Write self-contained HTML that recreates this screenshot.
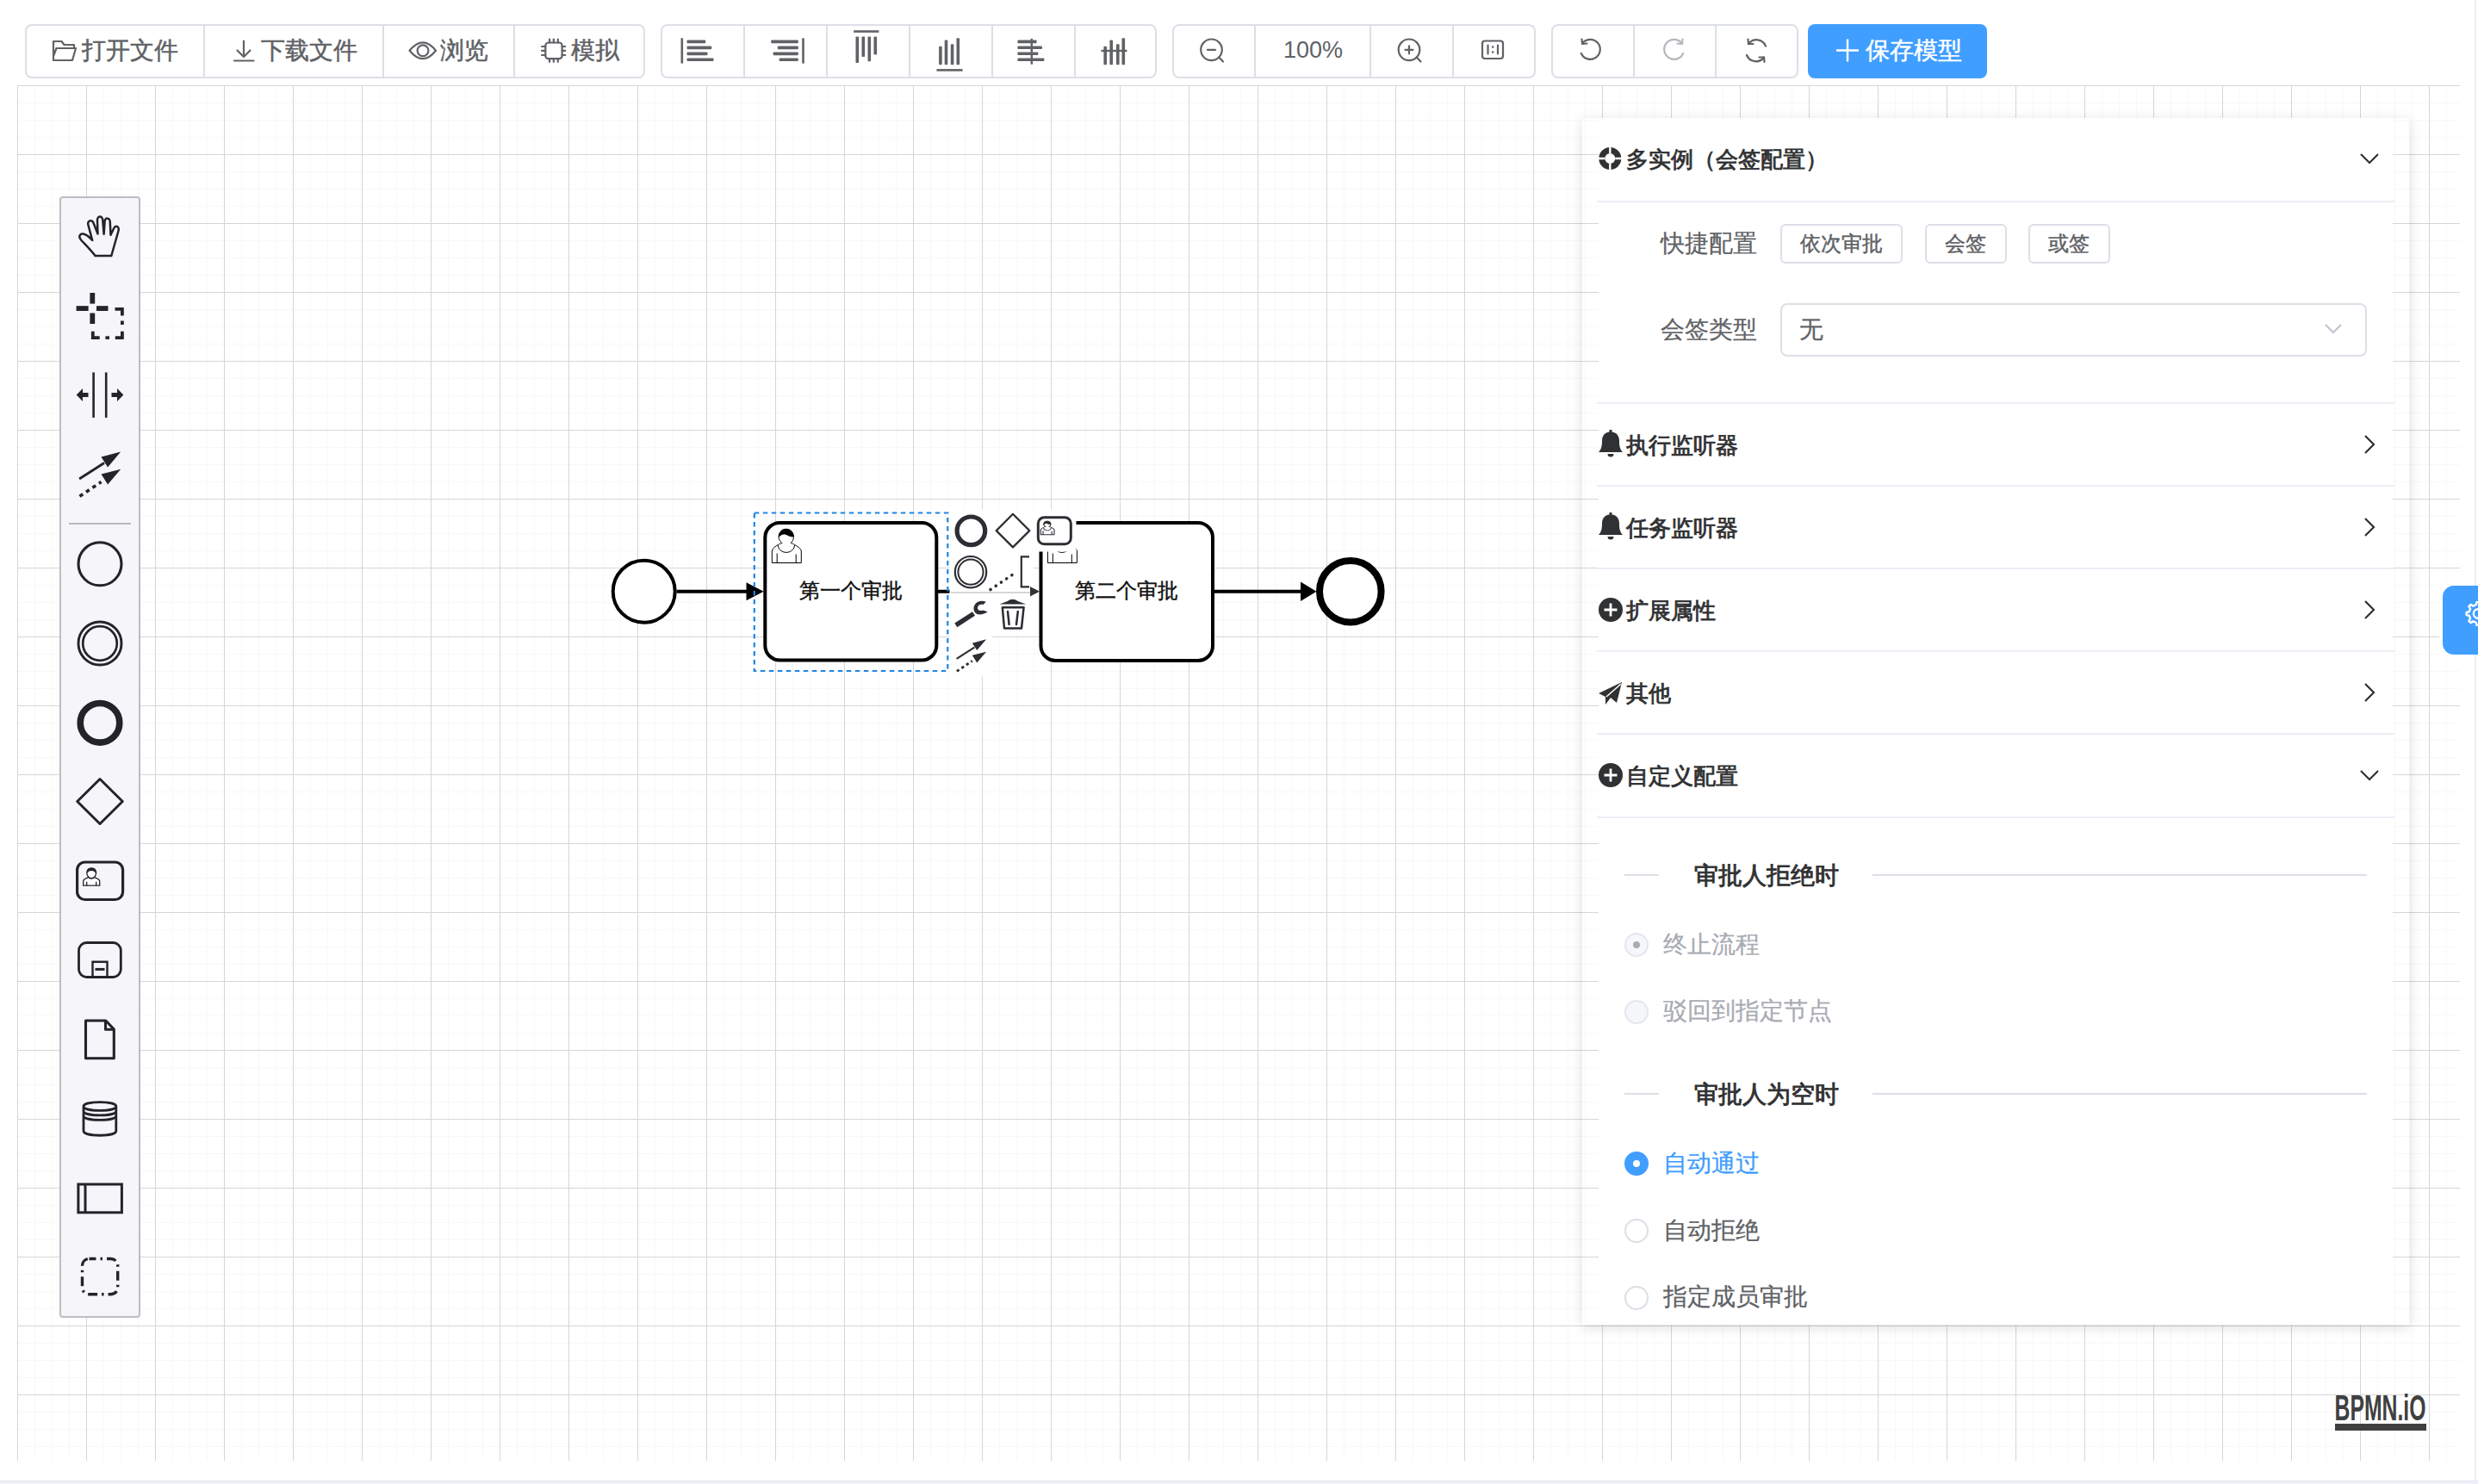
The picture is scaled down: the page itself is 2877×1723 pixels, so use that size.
<!DOCTYPE html>
<html><head><meta charset="utf-8">
<style>
html,body{margin:0;padding:0;}
body{width:2877px;height:1723px;position:relative;overflow:hidden;background:#fff;font-family:"Liberation Sans",sans-serif;color:#606266;}
.abs{position:absolute;}
#canvas{position:absolute;left:20px;top:99px;width:2836px;height:1597px;
 background-image:
  linear-gradient(to right,#d6d6d6 0,#d6d6d6 1px,transparent 1px),
  linear-gradient(to bottom,#d6d6d6 0,#d6d6d6 1px,transparent 1px),
  linear-gradient(to right,#f8f8f8 0,#f8f8f8 1px,transparent 1px),
  linear-gradient(to bottom,#f8f8f8 0,#f8f8f8 1px,transparent 1px);
 background-size:80px 80px,80px 80px,20px 20px,20px 20px;}
.grp{position:absolute;top:27.5px;height:63px;box-sizing:border-box;border:2px solid #dcdfe6;border-radius:8px;background:#fff;}
.btn{position:absolute;top:0;height:59px;box-sizing:border-box;border-left:2px solid #dcdfe6;}
.btn.f{border-left:none;}
.t28{position:absolute;font-size:28px;line-height:28px;color:#606266;white-space:nowrap;-webkit-text-stroke:0.5px currentColor;}
svg{position:absolute;overflow:visible;}
#palette{position:absolute;left:69px;top:228px;width:94px;height:1302px;box-sizing:border-box;border:2px solid #bdbdc3;border-radius:4px;background:#f5f5fa;}
#panel{position:absolute;left:1837px;top:137px;width:960px;height:1401px;box-shadow:0 3px 14px rgba(0,0,0,0.13);}
#panelw{position:absolute;left:1856px;top:137px;width:922px;height:1401px;background:#fff;}
.hd{position:absolute;font-size:26px;line-height:26px;color:#303133;-webkit-text-stroke:0.85px #303133;white-space:nowrap;}
.sep{position:absolute;height:2px;background:#ebeef5;}
.lbl{position:absolute;font-size:28px;line-height:28px;color:#606266;white-space:nowrap;-webkit-text-stroke:0.25px currentColor;}
.sbtn{position:absolute;box-sizing:border-box;border:2px solid #dcdfe6;border-radius:6px;height:46px;top:260px;font-size:24px;line-height:42px;text-align:center;color:#606266;-webkit-text-stroke:0.45px #606266;}
.radio{position:absolute;box-sizing:border-box;width:28px;height:28px;border-radius:50%;border:2px solid #dcdfe6;background:#fff;}
</style></head><body>
<div id="canvas"></div>
<div class="abs" style="left:0;top:1718.5px;width:2877px;height:1.5px;background:#e3e4e8"></div><div class="abs" style="left:0;top:1720px;width:2877px;height:3px;background:#eef1f9"></div>
<div class="abs" style="left:2873px;top:0;width:2px;height:1719px;background:#eceef4"></div>

<div class="grp" style="left:28.5px;width:720.5px;">
<div class="btn f" style="left:0px;width:205.5px"></div>
<div class="btn" style="left:205.5px;width:208px"></div>
<div class="btn" style="left:413.5px;width:151.5px"></div>
<div class="btn" style="left:565.0px;width:151.5px"></div>
</div>
<div class="grp" style="left:767px;width:576.0px;">
<div class="btn f" style="left:0px;width:93.5px"></div>
<div class="btn" style="left:93.5px;width:96px"></div>
<div class="btn" style="left:189.5px;width:96px"></div>
<div class="btn" style="left:285.5px;width:96px"></div>
<div class="btn" style="left:381.5px;width:96px"></div>
<div class="btn" style="left:477.5px;width:94.5px"></div>
</div>
<div class="grp" style="left:1360.7px;width:422.3px;">
<div class="btn f" style="left:0px;width:93px"></div>
<div class="btn" style="left:93px;width:134.6px"></div>
<div class="btn" style="left:227.6px;width:96px"></div>
<div class="btn" style="left:323.6px;width:94.7px"></div>
</div>
<div class="grp" style="left:1801px;width:287.0px;">
<div class="btn f" style="left:0px;width:92.8px"></div>
<div class="btn" style="left:92.8px;width:95.5px"></div>
<div class="btn" style="left:188.3px;width:94.7px"></div>
</div>
<div class="t28" style="left:95px;top:44.5px">打开文件</div>
<div class="t28" style="left:303px;top:44.5px">下载文件</div>
<div class="t28" style="left:511px;top:44.5px">浏览</div>
<div class="t28" style="left:662.5px;top:44.5px">模拟</div>
<div class="t28" style="left:1490px;top:45px;font-size:27px;line-height:27px;-webkit-text-stroke:0">100%</div>
<svg style="left:0;top:0" width="2877" height="100" viewBox="0 0 2877 100">
<g fill="none" stroke="#606266" stroke-width="2.2" stroke-linejoin="round" stroke-linecap="round">
<path d="M62,48 H71.5 L74.5,52 H86 V55.5 M62,48 V70 H84 L88,56 H65.5 L62.5,64"/>
<path d="M283,47.5 V66 M275.5,58.5 L283,66 L290.5,58.5 M272,70.5 H294.5"/>
<path d="M475.5,58.7 Q491,40 506,58.7 Q491,77.5 475.5,58.7 Z"/><circle cx="491" cy="58.7" r="6.4"/>
<rect x="633.3" y="49.5" width="19.3" height="18.7" rx="3.5"/>
<path d="M638,45.5 V49.5 M642.8,45.5 V49.5 M647.8,45.5 V49.5 M638,68.2 V71.8 M642.8,68.2 V71.8 M647.8,68.2 V71.8 M629,54 H633.3 M629,58.8 H633.3 M629,64 H633.3 M652.6,54 H656.2 M652.6,58.8 H656.2 M652.6,64 H656.2"/>
<circle cx="1406.5" cy="57.8" r="12.3"/><path d="M1415.2,66.5 L1420,71.5 M1402,57.8 H1411"/>
<circle cx="1636" cy="57.8" r="12.3"/><path d="M1644.7,66.5 L1649.5,71.5 M1631.5,57.8 H1640.5 M1636,53.3 V62.3"/>
<rect x="1721" y="47.5" width="24" height="20.5" rx="3"/>
<path d="M1727.5,52.5 V62.5 M1739,52.5 V62.5"/>
</g>
<g fill="#606266"><circle cx="1733.2" cy="54.5" r="1.3"/><circle cx="1733.2" cy="60.5" r="1.3"/></g>
<g fill="none" stroke-width="2.2" stroke-linecap="round" stroke-linejoin="round">
<path stroke="#606266" d="M1837,50.5 A11.5,11.5 0 1 1 1835.8,62" /><path stroke="#606266" d="M1836.5,45.5 L1837,51 L1842.5,50.5"/>
<path stroke="#b4b6bb" d="M1953,50.5 A11.5,11.5 0 1 0 1954.2,62" /><path stroke="#b4b6bb" d="M1953.5,45.5 L1953,51 L1947.5,50.5"/>
<path stroke="#606266" d="M2030,51 A11.5,11.5 0 0 1 2050,53.5 M2048,66.5 A11.5,11.5 0 0 1 2028,64" /><path stroke="#606266" d="M2029.5,45.5 L2030,51 L2035.5,51 M2048.5,72 L2048,66.5 L2042.5,66.5"/>
</g>
<g fill="#606266">
<rect x="790.5" y="44.3" width="2.6" height="29.3"/>
<rect x="797.5" y="46.6" width="21.700000000000045" height="3.6" rx="1"/>
<rect x="797.5" y="53.6" width="28.700000000000045" height="3.6" rx="1"/>
<rect x="797.5" y="60.6" width="24.0" height="3.6" rx="1"/>
<rect x="797.5" y="67.4" width="31.0" height="3.6" rx="1"/>
<rect x="931.2" y="44.3" width="2.6" height="29.3"/>
<rect x="895.2" y="46.6" width="31.59999999999991" height="3.6" rx="1"/>
<rect x="902.8" y="53.6" width="24.0" height="3.6" rx="1"/>
<rect x="897.6" y="60.6" width="29.199999999999932" height="3.6" rx="1"/>
<rect x="904.6" y="67.4" width="22.199999999999932" height="3.6" rx="1"/>
<rect x="991.2" y="35.2" width="29.2" height="2.6"/>
<rect x="993.5" y="42.6" width="3.6" height="30.4" rx="1"/>
<rect x="1000.5" y="42.6" width="3.6" height="23.4" rx="1"/>
<rect x="1007.5" y="42.6" width="3.6" height="28.6" rx="1"/>
<rect x="1014.5" y="42.6" width="3.6" height="21.0" rx="1"/>
<rect x="1087.5" y="80.1" width="30.1" height="2.6"/>
<rect x="1090.1000000000001" y="53.7" width="3.6" height="21.599999999999994" rx="1"/>
<rect x="1096.7" y="46.6" width="3.6" height="28.699999999999996" rx="1"/>
<rect x="1103.8" y="51.3" width="3.6" height="24.0" rx="1"/>
<rect x="1110.5" y="44.3" width="3.6" height="31.0" rx="1"/>
<rect x="1196.6" y="44.9" width="2.4" height="29.8"/>
<rect x="1181.4" y="46.6" width="22.199999999999818" height="3.6" rx="1"/>
<rect x="1181.4" y="53.400000000000006" width="28.59999999999991" height="3.6" rx="1"/>
<rect x="1181.4" y="60.400000000000006" width="24.0" height="3.6" rx="1"/>
<rect x="1181.4" y="67.4" width="31.0" height="3.6" rx="1"/>
<rect x="1278.5" y="57.8" width="29.9" height="2.4"/>
<rect x="1281.4" y="53.7" width="3.6" height="21.599999999999994" rx="1"/>
<rect x="1288.4" y="46.6" width="3.6" height="28.699999999999996" rx="1"/>
<rect x="1296.0" y="51.3" width="3.6" height="24.0" rx="1"/>
<rect x="1302.5" y="44.3" width="3.6" height="31.0" rx="1"/>
</g>
</svg>
<div class="abs" style="left:2098.5px;top:27.5px;width:208.5px;height:63px;background:#409eff;border-radius:8px;"></div>
<svg style="left:0;top:0" width="10" height="10"><path d="M2132,58.5 H2158 M2145,45.5 V71.5" stroke="#fff" stroke-width="2.4" fill="none"/></svg>
<div class="t28" style="left:2166px;top:44.5px;color:#fff">保存模型</div>
<div id="palette"></div>
<svg style="left:0;top:0" width="10" height="10">
<path fill="none" stroke="#22242a" stroke-width="2.5" stroke-linejoin="round" stroke-linecap="round" d="M110.5,297 H129.3 L137.5,268 C138.8,263 134.5,261 132.5,264.5 L128.5,272.8 L127.8,258 C127.6,252.5 121.6,252 121.6,257.5 L120.6,271.8 L119.3,256 C118.8,250 112.8,250 113,256 L113.5,271.5 L108.8,259.5 C107,254.5 100.8,255.5 102.5,261.5 L107.2,279 C104,275.5 100,272.5 97.5,271.8 C93,270.5 90.5,274.5 94,278.5 C99.5,284.5 106,291 110.5,297 Z"/>
<g fill="#22242a"><rect x="104.4" y="340" width="5.8" height="12.6"/><rect x="104.4" y="363.5" width="5.8" height="12.5"/><rect x="88.6" y="355.2" width="14" height="5.8"/><rect x="112" y="355.2" width="13.5" height="5.8"/><rect x="140" y="372.5" width="3.8" height="4.5"/><rect x="122.4" y="390.3" width="4.6" height="3.6"/></g>
<path fill="none" stroke="#22242a" stroke-width="3.8" d="M133.5,358.8 H141.9 V366.5 M141.9,384.8 V392.1 H133.8 M115.7,392.1 H107.8 V384.8"/>
<g fill="#22242a"><rect x="107.3" y="432.4" width="2.6" height="52.5"/><rect x="121.9" y="432.4" width="2.6" height="52.5"/>
<path d="M88.7,458.6 L96,451 V456 H102.5 V461 H96 V466 Z"/><path d="M143.4,458.6 L136,451 V456 H129.5 V461 H136 V466 Z"/></g>
<path stroke="#22242a" stroke-width="2.8" fill="none" d="M92.1,556 L121,537.5"/><path fill="#22242a" d="M140.2,524.4 L117.5,530.6 L125.1,542.4 Z"/>
<path stroke="#22242a" stroke-width="3.6" fill="none" stroke-dasharray="4.5,4.5" d="M92.5,576.3 L117.5,559.5"/><path fill="#22242a" d="M140.2,544.7 L117.5,550.4 L125.1,562.6 Z"/>
</svg>
<div class="abs" style="left:80px;top:607px;width:72px;height:2px;background:#b9b9bd"></div>
<svg style="left:0;top:0" width="10" height="10"><g fill="none" stroke="#22242a">
<circle cx="116" cy="654.8" r="25" stroke-width="3.1"/>
<circle cx="116" cy="747" r="25" stroke-width="2.9"/><circle cx="116" cy="747" r="19.8" stroke-width="2.7"/>
<circle cx="116" cy="839.3" r="22.8" stroke-width="7.6"/>
<path d="M116,904.5 L142.3,930.5 L116,956.5 L89.7,930.5 Z" stroke-width="3" stroke-linejoin="round"/>
<rect x="89.6" y="1001" width="53" height="43.5" rx="9" stroke-width="3.2"/>
<rect x="91.5" y="1094.5" width="48.8" height="40" rx="9" stroke-width="2.8"/>
<path d="M107.5,1135 V1116.8 H124.5 V1135" stroke-width="2.4"/><path d="M110.5,1125.4 H121.5" stroke-width="3"/>
<path d="M99.5,1185 H122.8 L132.3,1195 V1228.8 H99.5 Z M122.5,1185.5 V1195.3 H132" stroke-width="3.1" stroke-linejoin="round"/>
<path d="M97,1284.5 C97,1278 134.8,1278 134.8,1284.5 V1313 C134.8,1320 97,1320 97,1313 Z M97,1284.5 C97,1291 134.8,1291 134.8,1284.5 M97,1290 C97,1296.5 134.8,1296.5 134.8,1290 M97,1295.5 C97,1302 134.8,1302 134.8,1295.5" stroke-width="2.8"/>
<rect x="90.9" y="1375" width="50.5" height="32.8" stroke-width="3"/><path d="M99,1375 V1408" stroke-width="3"/>
<rect x="95.5" y="1461.5" width="41.2" height="41.2" rx="8" stroke-width="3.4" stroke-dasharray="11,5,2.5,5" stroke-dashoffset="3"/>
</g></svg>
<svg style="left:0;top:0" width="10" height="10"><g transform="translate(96.2,1007.7) scale(1.0)" fill="none" stroke="#22242a" stroke-width="1.3"><path d="M5.5,9 C3.5,5 5,0.5 10,0.5 C15,0.5 16.5,5 14.5,9 C13.5,11 12,12 10,12 C8,12 6.5,11 5.5,9 Z" fill="#fff"/><path d="M5.5,4.5 C7,2 13,2 14.5,4.5 C15,2 13,0.5 10,0.5 C7,0.5 5,2 5.5,4.5 Z" fill="#22242a"/><path d="M0.5,20.5 V15.5 C0.5,13 3,12.5 6.5,11 C8,13 12,13 13.5,11 C17,12.5 19.5,13 19.5,15.5 V20.5 Z" fill="#fff"/><path d="M4.5,20.5 V16 M15.5,20.5 V16"/></g></svg>
<svg style="left:0;top:0" width="10" height="10">
<circle cx="747.7" cy="686.7" r="36" fill="#fff" stroke="#000" stroke-width="4"/>
<path d="M785.7,686.7 H870" stroke="#000" stroke-width="4"/><path d="M886.6,686.7 L866.5,676.2 V697.2 Z" fill="#000"/>
<rect x="888.3" y="607" width="199" height="159.5" rx="17" fill="#fff" stroke="#000" stroke-width="4"/>
<path d="M1089,686.7 H1195" stroke="#000" stroke-width="4"/><path d="M1206.5,686.7 L1188,677 V696.4 Z" fill="#000"/>
<rect x="1208.5" y="607" width="199.5" height="160" rx="17" fill="#fff" stroke="#000" stroke-width="4"/>
<path d="M1410,686.7 H1512" stroke="#000" stroke-width="4"/><path d="M1528.4,686.7 L1510,675.4 V698 Z" fill="#000"/>
<circle cx="1567.8" cy="686.7" r="35.8" fill="#fff" stroke="#000" stroke-width="8"/>
<g transform="translate(888.2,606.5) scale(2)" stroke="#000" stroke-width="0.5"><path fill="#fff" d="m 15,12 c 0.909,-0.845 1.594,-2.049 1.594,-3.385 0,-2.554 -1.805,-4.622 -4.357,-4.622 -2.552,0 -4.288,2.068 -4.288,4.622 0,1.348 0.974,2.562 1.896,3.405 -0.529,0.187 -5.669,2.097 -5.794,4.756 v 6.718 h 17 v -6.718 c 0,-2.298 -5.528,-4.595 -6.009,-4.776 z m -8,6 l 0,5.5 m 11,0 l 0,-5"/><path fill="#fff" d="m 15,12 m 2.162,1.009 c 0,2.447 -2.158,4.431 -4.821,4.431 -2.665,0 -4.822,-1.981 -4.822,-4.431"/><path fill="#000" d="m 15,12 m -6.9,-3.8 c 0,0 2.251,-2.358 4.274,-1.177 2.024,1.181 4.221,1.537 4.124,0.965 -0.098,-0.57 -0.117,-3.791 -4.191,-4.136 -3.575,0.001 -4.288,3.6 -4.288,4.4 z"/></g>
<g transform="translate(1208.3,606.5) scale(2)" stroke="#000" stroke-width="0.5"><path fill="#fff" d="m 15,12 c 0.909,-0.845 1.594,-2.049 1.594,-3.385 0,-2.554 -1.805,-4.622 -4.357,-4.622 -2.552,0 -4.288,2.068 -4.288,4.622 0,1.348 0.974,2.562 1.896,3.405 -0.529,0.187 -5.669,2.097 -5.794,4.756 v 6.718 h 17 v -6.718 c 0,-2.298 -5.528,-4.595 -6.009,-4.776 z m -8,6 l 0,5.5 m 11,0 l 0,-5"/><path fill="#fff" d="m 15,12 m 2.162,1.009 c 0,2.447 -2.158,4.431 -4.821,4.431 -2.665,0 -4.822,-1.981 -4.822,-4.431"/><path fill="#000" d="m 15,12 m -6.9,-3.8 c 0,0 2.251,-2.358 4.274,-1.177 2.024,1.181 4.221,1.537 4.124,0.965 -0.098,-0.57 -0.117,-3.791 -4.191,-4.136 -3.575,0.001 -4.288,3.6 -4.288,4.4 z"/></g>
<rect x="875.8" y="595.5" width="224.5" height="183.5" fill="none" stroke="#1f86e0" stroke-width="2.2" stroke-dasharray="5.5,4.5"/>
</svg>
<div class="abs" style="left:888px;top:670px;width:200px;text-align:center;font-size:24px;line-height:32px;color:#111;-webkit-text-stroke:0.4px #111">第一个审批</div>
<div class="abs" style="left:1208px;top:670px;width:200px;text-align:center;font-size:24px;line-height:32px;color:#111;-webkit-text-stroke:0.4px #111">第二个审批</div>
<svg style="left:0;top:0" width="10" height="10">
<path d="M1102.5,591.5 H1249.5 V640.5 H1200.5 V736.5 H1151.5 V785.5 H1102.5 Z" fill="#fff"/>
<path d="M1104,688 H1200" stroke="#c8c8c8" stroke-width="1.6"/>
<path d="M1206.5,686.7 L1196,681 V692.4 Z" fill="#333"/>
<g fill="none" stroke="#2c2e33">
<circle cx="1127.4" cy="616.3" r="16.3" stroke-width="5.2"/>
<path d="M1176,596.8 L1195.3,616.1 L1176,635.4 L1156.7,616.1 Z" stroke-width="2.2" stroke-linejoin="round"/>
<rect x="1205.3" y="600.8" width="38" height="31" rx="7" stroke-width="3"/>
<circle cx="1127" cy="664.2" r="18.2" stroke-width="2.2"/><circle cx="1127" cy="664.2" r="14.6" stroke-width="2"/>
<path d="M1195,646.3 H1185.8 V681.3 H1195" stroke-width="2.2"/>
<path d="M1150,684.5 L1181,663.5" stroke-width="3.6" stroke-dasharray="0.1,7.4" stroke-linecap="round"/>
<path d="M1163.8,705.2 H1188.6 L1186,729.5 H1166 Z M1170,710 L1171.6,725 M1181.8,710 L1180,725" stroke-width="2.5" stroke-linejoin="round" stroke-linecap="round"/>
<path d="M1160.5,701.5 L1170.5,697.8 C1171,695.5 1180.5,695.5 1181,697.8 L1191.2,701.5 Z" fill="#2c2e33" stroke="none"/>
</g>
<g fill="#2c2e33">
<path d="M1109.8,725.8 L1130.5,712.5" stroke="#2c2e33" stroke-width="5.6"/>
<path d="M1144.8,698.8 C1137,695.5 1130.5,700.5 1130.5,706.5 C1130.5,712.5 1136.5,716.5 1146.8,710.5 L1141.5,708.5 C1138,710 1135,708.5 1135,705.8 C1135,703 1138,701.2 1141.5,702 Z"/>
<path d="M1110.60,764.84 L1131.32,751.58" stroke="#2c2e33" stroke-width="2.2" fill="none"/><path d="M1145.09,742.19 L1128.81,746.63 L1134.26,755.09 Z"/>
<path d="M1110.89,779.40 L1128.81,767.35" stroke="#2c2e33" stroke-width="2.8" fill="none" stroke-dasharray="3.3,3.3"/><path d="M1145.09,756.74 L1128.81,760.83 L1134.26,769.58 Z"/>
</g>
<g transform="translate(1204.6,602.1) scale(0.92,0.79)" stroke="#2c2e33" stroke-width="1.2"><path fill="#fff" d="m 15,12 c 0.909,-0.845 1.594,-2.049 1.594,-3.385 0,-2.554 -1.805,-4.622 -4.357,-4.622 -2.552,0 -4.288,2.068 -4.288,4.622 0,1.348 0.974,2.562 1.896,3.405 -0.529,0.187 -5.669,2.097 -5.794,4.756 v 6.718 h 17 v -6.718 c 0,-2.298 -5.528,-4.595 -6.009,-4.776 z m -8,6 l 0,5.5 m 11,0 l 0,-5"/><path fill="#fff" d="m 15,12 m 2.162,1.009 c 0,2.447 -2.158,4.431 -4.821,4.431 -2.665,0 -4.822,-1.981 -4.822,-4.431"/><path fill="#2c2e33" d="m 15,12 m -6.9,-3.8 c 0,0 2.251,-2.358 4.274,-1.177 2.024,1.181 4.221,1.537 4.124,0.965 -0.098,-0.57 -0.117,-3.791 -4.191,-4.136 -3.575,0.001 -4.288,3.6 -4.288,4.4 z"/></g>
</svg>
<div id="panel"></div><div id="panelw"></div>
<div class="hd" style="left:1888px;top:171.5px">多实例（会签配置）</div>
<svg style="left:0;top:0" width="10" height="10"><path d="M2741,179 L2751,189 L2761,179" fill="none" stroke="#303133" stroke-width="2.2"/></svg>
<svg style="left:0;top:0" width="10" height="10"><circle cx="1869.3" cy="184" r="9.5" fill="none" stroke="#303133" stroke-width="7"/><path d="M1869.3,170 V178 M1869.3,190 V198 M1855.3,184 H1863.3 M1875.3,184 H1883.3" stroke="#fff" stroke-width="2.4"/></svg>
<div class="sep" style="left:1854px;top:233px;width:926px"></div>
<div class="lbl" style="left:1928px;top:269px;width:112px;text-align:right">快捷配置</div>
<div class="sbtn" style="left:2067px;width:142px">依次审批</div>
<div class="sbtn" style="left:2234.5px;width:95px">会签</div>
<div class="sbtn" style="left:2354.5px;width:95px">或签</div>
<div class="lbl" style="left:1928px;top:368.5px;width:112px;text-align:right">会签类型</div>
<div class="abs" style="left:2067px;top:351.5px;width:681px;height:62.5px;box-sizing:border-box;border:2px solid #dcdfe6;border-radius:8px"></div>
<div class="lbl" style="left:2089px;top:368.5px">无</div>
<svg style="left:0;top:0" width="10" height="10"><path d="M2700,377 L2709,386 L2718,377" fill="none" stroke="#c0c4cc" stroke-width="2.2"/></svg>
<div class="sep" style="left:1854px;top:467px;width:926px"></div>
<div class="hd" style="left:1888px;top:503.5px">执行监听器</div>
<svg style="left:0;top:0" width="10" height="10"><path d="M2746,506 L2756,516 L2746,526" fill="none" stroke="#303133" stroke-width="2.2"/></svg>
<svg style="left:0;top:0" width="10" height="10"><path fill="#303133" d="M1856,525 C1860,521 1860,515 1860,512 C1860,505 1864,502 1868.5,501.5 V499 H1871.5 V501.5 C1876,502 1880,505 1880,512 C1880,515 1880,521 1884,525 Z"/><path fill="#303133" d="M1866.5,527 H1873.5 A3.5,3.5 0 0 1 1866.5,527 Z"/></svg>
<div class="sep" style="left:1854px;top:563px;width:926px"></div>
<div class="hd" style="left:1888px;top:599.5px">任务监听器</div>
<svg style="left:0;top:0" width="10" height="10"><path d="M2746,602 L2756,612 L2746,622" fill="none" stroke="#303133" stroke-width="2.2"/></svg>
<svg style="left:0;top:0" width="10" height="10"><path fill="#303133" d="M1856,621 C1860,617 1860,611 1860,608 C1860,601 1864,598 1868.5,597.5 V595 H1871.5 V597.5 C1876,598 1880,601 1880,608 C1880,611 1880,617 1884,621 Z"/><path fill="#303133" d="M1866.5,623 H1873.5 A3.5,3.5 0 0 1 1866.5,623 Z"/></svg>
<div class="sep" style="left:1854px;top:659px;width:926px"></div>
<div class="hd" style="left:1888px;top:695.5px">扩展属性</div>
<svg style="left:0;top:0" width="10" height="10"><path d="M2746,698 L2756,708 L2746,718" fill="none" stroke="#303133" stroke-width="2.2"/></svg>
<svg style="left:0;top:0" width="10" height="10"><circle cx="1870" cy="708" r="14" fill="#303133"/><path d="M1862.5,708 H1877.5 M1870,700.5 V715.5" stroke="#fff" stroke-width="2.8"/></svg>
<div class="sep" style="left:1854px;top:755px;width:926px"></div>
<div class="hd" style="left:1888px;top:791.5px">其他</div>
<svg style="left:0;top:0" width="10" height="10"><path d="M2746,794 L2756,804 L2746,814" fill="none" stroke="#303133" stroke-width="2.2"/></svg>
<svg style="left:0;top:0" width="10" height="10"><path fill="#303133" d="M1856,805 L1883,792 L1877,816 L1870,810 L1864,818 V809 Z"/><path d="M1865,809 L1882,794" stroke="#fff" stroke-width="1.6"/></svg>
<div class="sep" style="left:1854px;top:851px;width:926px"></div>
<div class="hd" style="left:1888px;top:887.5px">自定义配置</div>
<svg style="left:0;top:0" width="10" height="10"><path d="M2741,895 L2751,905 L2761,895" fill="none" stroke="#303133" stroke-width="2.2"/></svg>
<svg style="left:0;top:0" width="10" height="10"><circle cx="1870" cy="900" r="14" fill="#303133"/><path d="M1862.5,900 H1877.5 M1870,892.5 V907.5" stroke="#fff" stroke-width="2.8"/></svg>
<div class="sep" style="left:1854px;top:948px;width:926px"></div>
<div class="abs" style="left:1886px;top:1015px;width:40px;height:2px;background:#dcdfe6"></div>
<div class="abs" style="left:2174px;top:1015px;width:574px;height:2px;background:#dcdfe6"></div>
<div class="abs" style="left:1967px;top:1003px;font-size:28px;line-height:28px;color:#303133;-webkit-text-stroke:0.9px #303133;white-space:nowrap">审批人拒绝时</div>
<div class="abs" style="left:1886px;top:1269px;width:40px;height:2px;background:#dcdfe6"></div>
<div class="abs" style="left:2174px;top:1269px;width:574px;height:2px;background:#dcdfe6"></div>
<div class="abs" style="left:1967px;top:1257px;font-size:28px;line-height:28px;color:#303133;-webkit-text-stroke:0.9px #303133;white-space:nowrap">审批人为空时</div>
<div class="radio" style="left:1886px;top:1083px;background:#f5f7fa;border-color:#e4e7ed"></div>
<div class="abs" style="left:1896px;top:1093px;width:8px;height:8px;border-radius:50%;background:#a8abb2"></div>
<div class="lbl" style="left:1931px;top:1082.5px;color:#a8abb2">终止流程</div>
<div class="radio" style="left:1886px;top:1160.8px;background:#f5f7fa;border-color:#e4e7ed"></div>
<div class="lbl" style="left:1931px;top:1160.3px;color:#a8abb2">驳回到指定节点</div>
<div class="radio" style="left:1886px;top:1337px;background:#409eff;border-color:#409eff"></div>
<div class="abs" style="left:1896px;top:1347px;width:8px;height:8px;border-radius:50%;background:#fff"></div>
<div class="lbl" style="left:1931px;top:1336.5px;color:#409eff">自动通过</div>
<div class="radio" style="left:1886px;top:1415px"></div>
<div class="lbl" style="left:1931px;top:1414.5px;color:#606266">自动拒绝</div>
<div class="radio" style="left:1886px;top:1492.7px"></div>
<div class="lbl" style="left:1931px;top:1492.2px;color:#606266">指定成员审批</div>
<div class="abs" style="left:2832px;top:676px;width:41px;height:87px;background:#fff;"></div>
<div class="abs" style="left:2835.6px;top:679.7px;width:60px;height:80px;background:#409eff;border-radius:13px 0 0 13px"></div>
<svg style="left:0;top:0" width="10" height="10"><g fill="none" stroke="#fff" stroke-width="2.4" stroke-linejoin="round"><circle cx="2877" cy="712.5" r="5.2"/><path d="M2887.25,710.21 L2890.40,710.88 L2890.40,714.12 L2887.25,714.79 L2885.87,718.13 L2887.62,720.83 L2885.33,723.12 L2882.63,721.37 L2879.29,722.75 L2878.62,725.90 L2875.38,725.90 L2874.71,722.75 L2871.37,721.37 L2868.67,723.12 L2866.38,720.83 L2868.13,718.13 L2866.75,714.79 L2863.60,714.12 L2863.60,710.88 L2866.75,710.21 L2868.13,706.87 L2866.38,704.17 L2868.67,701.88 L2871.37,703.63 L2874.71,702.25 L2875.38,699.10 L2878.62,699.10 L2879.29,702.25 L2882.63,703.63 L2885.33,701.88 L2887.62,704.17 L2885.87,706.87 Z"/></g></svg>
<svg style="left:0;top:0" width="10" height="10"><text x="2710.5" y="1648.8" font-family="Liberation Sans" font-weight="bold" font-size="42.5" fill="#404040" textLength="106" lengthAdjust="spacingAndGlyphs">BPMN.iO</text></svg>
<div class="abs" style="left:2710.5px;top:1653px;width:106px;height:8px;background:#404040"></div>
</body></html>
